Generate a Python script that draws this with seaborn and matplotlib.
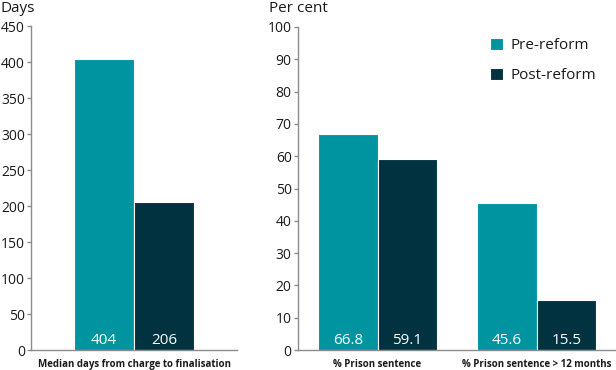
import matplotlib
matplotlib.use("Agg")
import matplotlib.pyplot as plt
import seaborn as sns
import pandas as pd

# Data
periods = ["Pre-reform", "Post-reform"]
days_category = ["Median days from charge to finalisation"]
days_values = [404, 206]  # pre, post
pct_categories = ["% Prison sentence", "% Prison sentence > 12 months"]
pct_pre = [66.8, 45.6]
pct_post = [59.1, 15.5]
value_labels_days = ["404", "206"]
value_labels_pct = ["66.8", "45.6", "59.1", "15.5"]

TEAL = "#0094A1"
DARK = "#00323F"
palette = {periods[0]: TEAL, periods[1]: DARK}
AXC = "#8c8c8c"
TXT = "#1a1a1a"

sns.set_theme(style="white")
plt.rcParams['font.family'] = ['Open Sans', 'DejaVu Sans']

df_days = pd.DataFrame({
    "cat": days_category * 2,
    "period": periods,
    "value": days_values,
})
df_pct = pd.DataFrame({
    "cat": pct_categories * 2,
    "period": [periods[0]] * 2 + [periods[1]] * 2,
    "value": pct_pre + pct_post,
})

W, H = 616, 370
fig = plt.figure(figsize=(W / 100, H / 100), dpi=100)
ax1 = fig.add_axes([31 / W, 20 / H, 206 / W, 324 / H])
ax2 = fig.add_axes([298 / W, 20 / H, 318 / W, 323 / H])

sns.barplot(data=df_days, x="cat", y="value", hue="period", hue_order=periods,
            palette=palette, width=0.58, ax=ax1, legend=False,
            edgecolor="white", linewidth=0.8, saturation=1)
sns.barplot(data=df_pct, x="cat", y="value", hue="period", hue_order=periods,
            palette=palette, width=0.75, ax=ax2, legend=True,
            edgecolor="white", linewidth=0.8, saturation=1)

ax1.set_ylim(0, 450)
ax1.set_yticks(range(0, 451, 50))
ax1.set_xlim(-0.5, 0.5)
ax2.set_ylim(0, 100)
ax2.set_yticks(range(0, 101, 10))
ax2.set_xlim(-0.5, 1.5)

for ax in (ax1, ax2):
    ax.set_xlabel("")
    ax.set_ylabel("")
    for s in ("top", "right"):
        ax.spines[s].set_visible(False)
    for s in ("left", "bottom"):
        ax.spines[s].set_color(AXC)
        ax.spines[s].set_linewidth(1.0)
    ax.tick_params(axis="y", which="both", left=True, length=3, width=1,
                   color=AXC, labelsize=10, labelcolor=TXT, pad=1.5)
    ax.tick_params(axis="x", bottom=False, labelsize=7, labelcolor=TXT, pad=0.5)
    for lab in ax.get_xticklabels():
        lab.set_fontweight("bold")

# value labels near bottom of bars
def label_bars(ax, labels):
    bars = [p for p in ax.patches if p.get_height() > 0]
    for p, lab in zip(bars, labels):
        ax.annotate(lab, xy=(p.get_x() + p.get_width() / 2, 0),
                    xytext=(0, 1.5), textcoords="offset points",
                    ha="center", va="bottom", color="white", fontsize=11)

label_bars(ax1, value_labels_days)
label_bars(ax2, value_labels_pct)

leg = ax2.legend(loc="upper left", bbox_to_anchor=(0.585, 0.985), frameon=False,
                 fontsize=11, handlelength=0.85, handleheight=0.85,
                 labelspacing=0.95, handletextpad=0.5, borderaxespad=0)
for t in leg.get_texts():
    t.set_color(TXT)

fig.text(1 / W, 1 - 1 / H, "Days", ha="left", va="top", fontsize=11, color=TXT)
fig.text(269 / W, 1 - 1 / H, "Per cent", ha="left", va="top", fontsize=11, color=TXT)

fig.savefig("out.png", dpi=100)
